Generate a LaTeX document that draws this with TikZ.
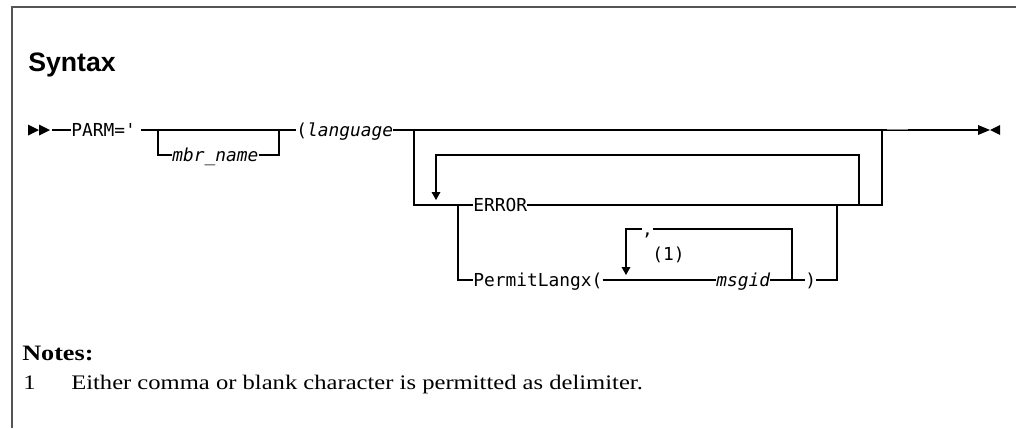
\documentclass[tikz,border=0pt]{standalone}
\usepackage{fontspec}
\setmainfont{Liberation Serif}
\setsansfont{Liberation Sans}
\setmonofont{DejaVu Sans Mono}
\newfontfamily\notefont{Liberation Serif}[FakeStretch=1.19]
\usepackage{tikz}
\usetikzlibrary{positioning,arrows.meta}
\definecolor{marco}{HTML}{555555}

\begin{document}
\begin{tikzpicture}[x=0.75pt, y=-0.75pt,
  tok/.style={font=\ttfamily\fontsize{13.4}{16}\selectfont, inner sep=0pt,
    text height=11pt, text depth=2pt, anchor=west},
  via/.style={line width=0.9pt},
  baja/.style={via, -{Triangle[length=6pt,width=6.5pt]}}]
  \useasboundingbox (0,0) rectangle (1016,428);
  \draw[marco, line width=1.5pt] (12,428) -- (12,7) -- (1016,7);
  \node[anchor=base west, inner sep=0pt, font=\sffamily\bfseries\fontsize{20}{23}\selectfont] (sintaxis) at (28,71) {Syntax};

  % nodos de la sintaxis
  \node[tok] (parm)   at (71,130)  {PARM='};
  \node[tok] (mbr)    at (172,155) {\itshape mbr\_name};
  \node[tok] (lang)   at (296,130) {(\textit{language}};
  \node[tok] (error)  at (473,205) {ERROR};
  \node[tok] (permit) at (473,280) {PermitLangx(};
  \node[tok] (msgid)  at (716,280) {\itshape msgid};
  \node[tok] (cierra) at (805,280) {)};
  \node[tok, anchor=center] (coma) at (647.5,229) {,};
  \node[tok] (nota) at (652,254) {(1)};

  \coordinate (ini)  at (52,130);
  \coordinate (fin)  at (978,130);
  \coordinate (b1)   at (158,130);
  \coordinate (b2)   at (279,130);
  \coordinate (c1)   at (414,130);
  \coordinate (c2)   at (882,130);
  \coordinate (r1)   at (859,205);
  \coordinate (rtop) at (436,155);
  \coordinate (r2)   at (436,200);
  \coordinate (d1)   at (458,205);
  \coordinate (d2)   at (837,205);
  \coordinate (m1)   at (792,280);
  \coordinate (m2)   at (626,275);

  % marcas de inicio y fin
  \foreach \x in {28,39}
    \fill (\x,124.5) -- ++(11,5.5) -- ++(-11,5.5) -- cycle;
  \fill (978,125) -- (990,130) -- (978,135) -- cycle;
  \fill (1000,125) -- (990,130) -- (1000,135) -- cycle;

  % linea principal
  \draw[via] (ini) -- (parm);
  \draw[via] ([xshift=4pt]parm.east) -- (lang.west);
  \draw[via] (lang.east) -- (fin);
  \draw[marco!70, line width=1.2pt] (887,129.3) -- (908,129.3);
  \draw[via] (b1) |- (mbr.west);
  \draw[via] (mbr.east) -| (b2);

  % ERROR y repeticion
  \draw[via] (c1) |- (error.west);
  \draw[via] (error.east) -| (c2);
  \draw[baja] (r1) |- (rtop) -- (r2);

  % PermitLangx
  \draw[via] (d1) |- (permit.west);
  \draw[via] (permit.east) -- (msgid.west);
  \draw[via] (msgid.east) -- (cierra.west);
  \draw[via] (cierra.east) -| (d2);
  \draw[via] (m1) |- (coma.east);
  \draw[baja] (coma.west) -| (m2);

  % notas
  \node[anchor=base west, inner sep=0pt, font=\notefont\bfseries\fontsize{16.5}{19}\selectfont] (notas) at (22,360) {Notes:};
  \node[anchor=base west, inner sep=0pt, font=\notefont\fontsize{15.5}{19}\selectfont] (n1) at (23,389) {1};
  \node[anchor=base west, inner sep=0pt, font=\notefont\fontsize{15.5}{19}\selectfont] (n1txt) at (71,389) {Either comma or blank character is permitted as delimiter.};
\end{tikzpicture}
\end{document}
